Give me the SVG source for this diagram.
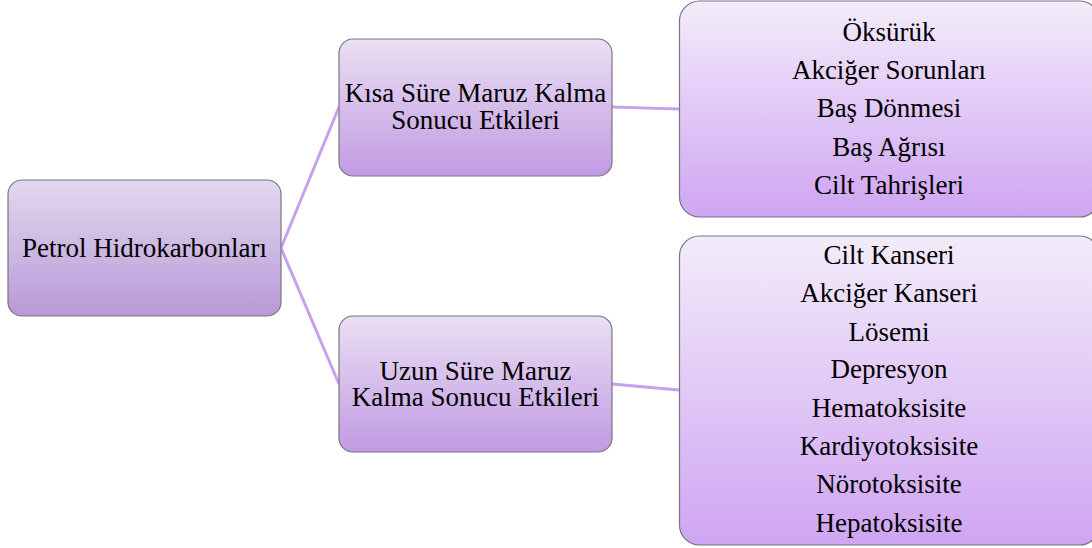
<svg xmlns="http://www.w3.org/2000/svg" width="1092" height="548" viewBox="0 0 1092 548">
<defs>
<linearGradient id="gMain" x1="0" y1="0" x2="0" y2="1">
<stop offset="0" stop-color="#E2D8EE"/>
<stop offset="1" stop-color="#B89AD7"/>
</linearGradient>
<linearGradient id="gMid" x1="0" y1="0" x2="0" y2="1">
<stop offset="0" stop-color="#EADFF3"/>
<stop offset="1" stop-color="#C19BE3"/>
</linearGradient>
<linearGradient id="gList" x1="0" y1="0" x2="0" y2="1">
<stop offset="0" stop-color="#F3ECFA"/>
<stop offset="1" stop-color="#CFA5F2"/>
</linearGradient>
</defs>
<style>
.box{stroke:#7A7480;stroke-width:1.2}
.t{font-family:"Liberation Serif","Times New Roman",serif;font-size:27px;fill:#000;text-anchor:middle}
.c{stroke:#C8A0F0;stroke-width:3;fill:none}
</style>
<g id="connectors">
<line class="c" x1="281" y1="248" x2="339" y2="107"/>
<line class="c" x1="281" y1="248" x2="339" y2="384"/>
<line class="c" x1="612" y1="107" x2="679" y2="109"/>
<line class="c" x1="612" y1="384" x2="679" y2="390"/>
</g>
<g id="root">
<rect class="box" x="8" y="180" width="273" height="136" rx="14" fill="url(#gMain)"/>
<text class="t" x="144.5" y="257">Petrol Hidrokarbonları</text>
</g>
<g id="short">
<rect class="box" x="339" y="39" width="273" height="137" rx="14" fill="url(#gMid)"/>
<text class="t" x="475.5" y="102">Kısa Süre Maruz Kalma</text>
<text class="t" x="475.5" y="129">Sonucu Etkileri</text>
</g>
<g id="long">
<rect class="box" x="339" y="316" width="273" height="136" rx="14" fill="url(#gMid)"/>
<text class="t" x="475.5" y="380">Uzun Süre Maruz</text>
<text class="t" x="475.5" y="406">Kalma Sonucu Etkileri</text>
</g>
<g id="shortList">
<rect class="box" x="679.5" y="1" width="420" height="216" rx="20" fill="url(#gList)"/>
<text class="t" x="889" y="41">Öksürük</text>
<text class="t" x="889" y="79">Akciğer Sorunları</text>
<text class="t" x="889" y="117">Baş Dönmesi</text>
<text class="t" x="889" y="156">Baş Ağrısı</text>
<text class="t" x="889" y="194">Cilt Tahrişleri</text>
</g>
<g id="longList">
<rect class="box" x="679.5" y="236" width="420" height="309" rx="20" fill="url(#gList)"/>
<text class="t" x="889" y="264">Cilt Kanseri</text>
<text class="t" x="889" y="302">Akciğer Kanseri</text>
<text class="t" x="889" y="341">Lösemi</text>
<text class="t" x="889" y="378">Depresyon</text>
<text class="t" x="889" y="417">Hematoksisite</text>
<text class="t" x="889" y="455">Kardiyotoksisite</text>
<text class="t" x="889" y="493">Nörotoksisite</text>
<text class="t" x="889" y="532">Hepatoksisite</text>
</g>
</svg>
